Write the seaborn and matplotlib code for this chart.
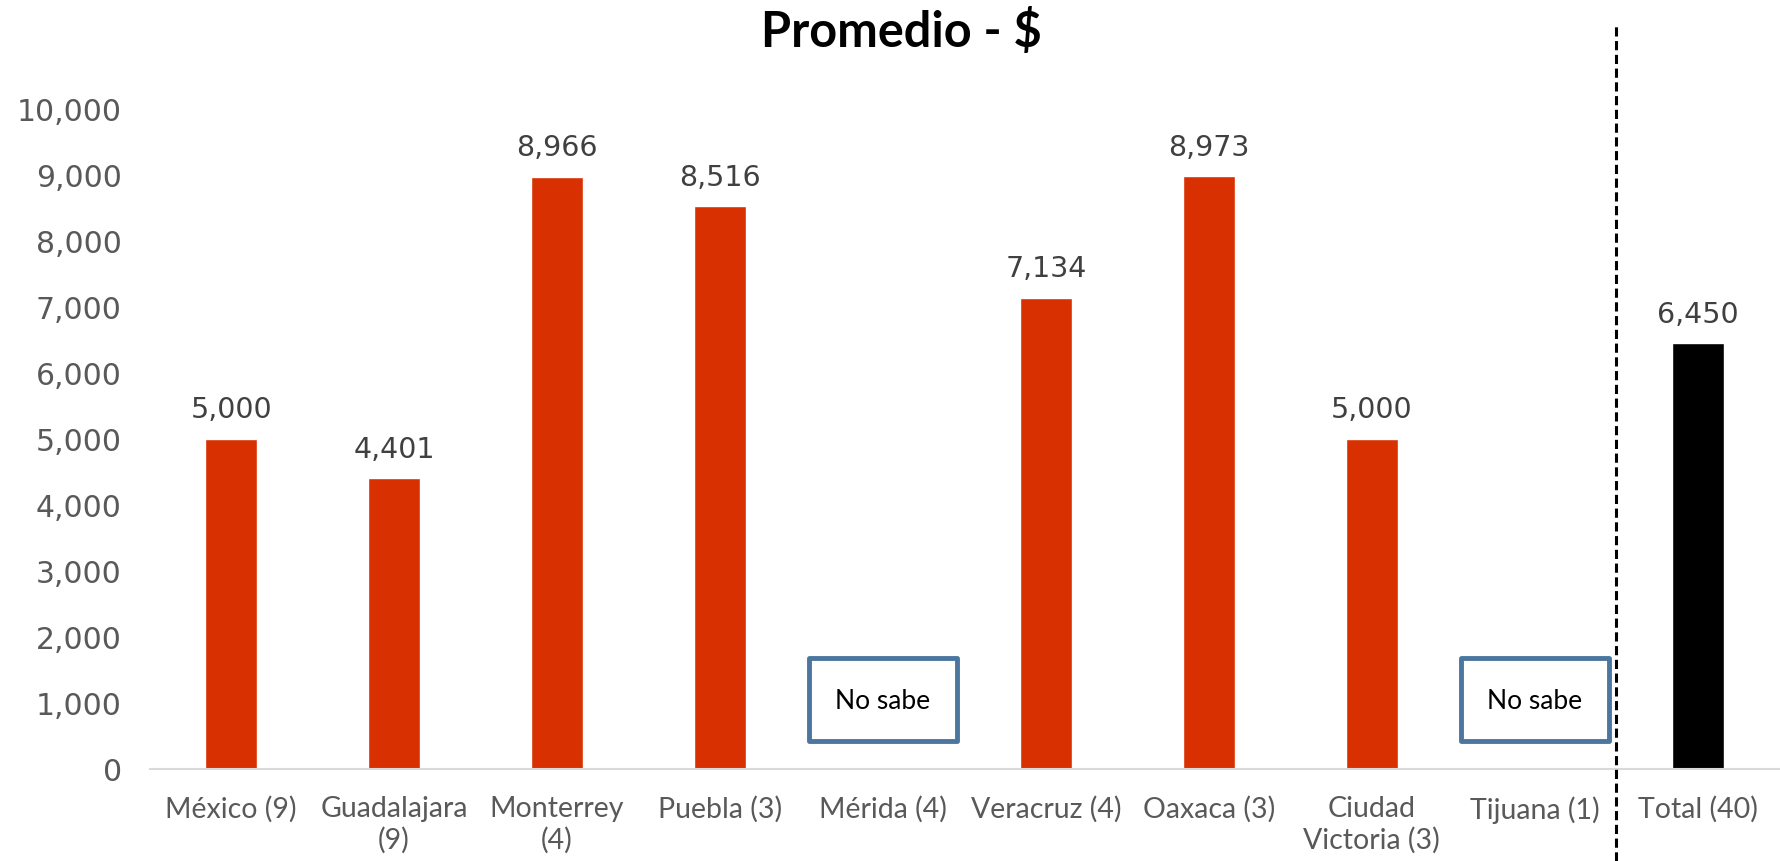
import numpy as np
import pandas as pd
import matplotlib
matplotlib.use("Agg")
import matplotlib.pyplot as plt
import seaborn as sns
from matplotlib.patches import FancyBboxPatch
from matplotlib.lines import Line2D

# Chart data
cities = ['México (9)', 'Guadalajara\n(9)', 'Monterrey\n(4)', 'Puebla (3)', 'Mérida (4)',
          'Veracruz (4)', 'Oaxaca (3)', 'Ciudad\nVictoria (3)', 'Tijuana (1)', 'Total (40)']
promedio = [5000, 4401, 8966, 8516, np.nan, 7134, 8973, 5000, np.nan, 6450]
no_sabe = ['Mérida (4)', 'Tijuana (1)']
title = 'Promedio - $'

RED = '#D83000'
colors = {c: ('#000000' if c.startswith('Total') else RED) for c in cities}
NARROW = ['Liberation Sans Narrow', 'Lato']

sns.set_theme(style='white')
plt.rcParams['font.family'] = ['DejaVu Sans']

fig = plt.figure(figsize=(17.81, 8.62), dpi=100)
ax = fig.add_axes([0.084, 0.107, 0.915, 0.766])

df = pd.DataFrame({'ciudad': cities, 'valor': promedio})
sns.barplot(data=df, x='ciudad', y='valor', hue='ciudad', order=cities,
            palette=colors, legend=False, width=0.32, saturation=1, ax=ax)

# value labels
for c in ax.containers:
    labels = ['' if np.isnan(v) else f'{v:,.0f}' for v in c.datavalues]
    ax.bar_label(c, labels=labels, padding=11, fontsize=20.5, color='#404040')

ax.set_ylim(0, 10000)
ax.set_xlim(-0.5, len(cities) - 0.5)
ax.set_yticks(range(0, 10001, 1000))
ax.yaxis.set_major_formatter(matplotlib.ticker.FuncFormatter(lambda v, p: f'{v:,.0f}'))
ax.tick_params(axis='y', labelsize=21.5, labelcolor='#595959', length=0, pad=20)
ax.tick_params(axis='x', length=0, pad=19)
for lab in ax.get_xticklabels():
    lab.set_fontfamily(NARROW)
    lab.set_fontsize(20.5)
    lab.set_color('#595959')
    lab.set_linespacing(1.2)
ax.set_xlabel('')
ax.set_ylabel('')
for s in ['top', 'right', 'left']:
    ax.spines[s].set_visible(False)
ax.spines['bottom'].set_color('#D9D9D9')
ax.spines['bottom'].set_linewidth(1.5)

# "No sabe" boxes
for name in no_sabe:
    i = cities.index(name)
    ax.add_patch(FancyBboxPatch((i - 0.455, 413), 0.91, 1257,
                                boxstyle='square,pad=0', fill=False,
                                edgecolor='#4A76A0', linewidth=3.5, joinstyle='round'))
    ax.text(i, 1040, 'No sabe', ha='center', va='center', fontsize=19,
            color='black', family=NARROW)

# dashed separator before total
xsep = len(cities) - 1.5
xf = fig.transFigure.inverted().transform(ax.transData.transform((xsep, 0)))[0]
fig.add_artist(Line2D([xf, xf], [0, 0.972], color='black', linewidth=2.2,
                      linestyle=(0, (3, 1.5)), transform=fig.transFigure))

fig.text(0.506, 0.963, title, ha='center', va='center', fontsize=35,
         fontweight='bold', color='black', family=['Lato', 'DejaVu Sans'])

fig.savefig('out.png', dpi=100, facecolor='white')
